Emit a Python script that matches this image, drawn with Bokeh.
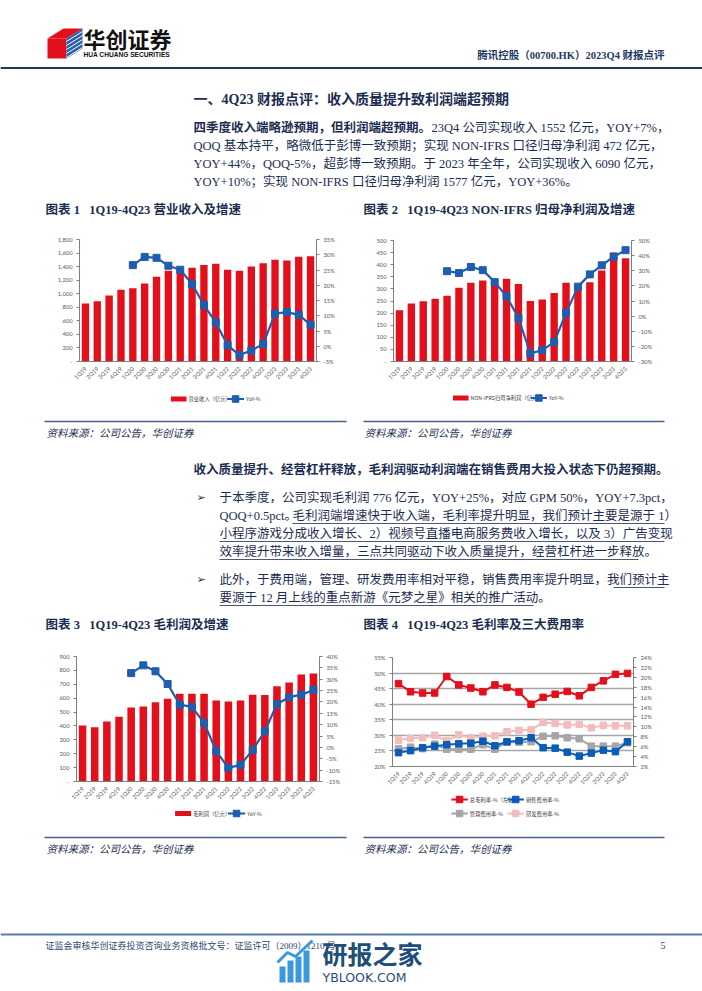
import math
from bokeh.plotting import figure
from bokeh.models import (Range1d, LinearAxis, FactorRange,
                          SingleIntervalTicker, NumeralTickFormatter, PrintfTickFormatter)
from bokeh.layouts import column, row
from bokeh.embed import file_html
from bokeh.resources import INLINE
from bokeh.core.properties import value

# ---------------- data ----------------
quarters = ["1Q19", "2Q19", "3Q19", "4Q19", "1Q20", "2Q20", "3Q20", "4Q20",
            "1Q21", "2Q21", "3Q21", "4Q21", "1Q22", "2Q22", "3Q22", "4Q22",
            "1Q23", "2Q23", "3Q23", "4Q23"]
yoy_quarters = quarters[4:]

revenue = [855, 889, 972, 1057, 1081, 1149, 1252, 1339, 1351, 1383,
           1425, 1442, 1355, 1340, 1401, 1450, 1500, 1492, 1546, 1552]
revenue_yoy = [26.6, 29.3, 29.0, 26.4, 25.1, 20.4, 13.5, 7.8,
               0.3, -2.9, -1.4, 0.7, 10.7, 11.2, 10.3, 7.1]

net_profit = [212, 240, 249, 259, 272, 305, 325, 335, 330, 342,
              320, 250, 256, 283, 325, 297, 327, 376, 450, 427]
net_profit_yoy = [29.7, 28.5, 32.5, 30.4, 22.5, 13.1, -1.2, -24.7,
                  -22.5, -17.2, 2.0, 19.5, 27.6, 33.6, 39.3, 43.6]

gross_profit = [403, 391, 432, 466, 533, 540, 571, 595, 631, 631,
                631, 583, 576, 583, 624, 622, 686, 713, 770, 778]
gross_profit_yoy = [32.7, 36.1, 33.5, 27.9, 18.8, 17.8, 10.8, -1.7,
                    -9.0, -7.7, -1.1, 7.1, 19.1, 22.1, 23.2, 25.3]

gross_margin = [46.6, 44.0, 43.6, 43.6, 48.9, 46.2, 45.2, 44.0, 46.2, 45.4,
                43.9, 40.0, 42.2, 43.2, 44.1, 42.7, 45.4, 47.5, 49.6, 49.9]
selling_ratio = [4.8, 5.2, 5.8, 6.1, 6.4, 6.6, 6.7, 7.1, 6.2, 7.0,
                 7.2, 7.8, 5.8, 5.7, 4.9, 4.1, 4.7, 5.3, 5.0, 7.0]
admin_ratio = [5.6, 5.9, 5.6, 6.5, 5.5, 5.5, 5.5, 6.4, 5.5, 6.9,
               6.9, 7.0, 8.1, 8.2, 7.8, 7.6, 6.1, 6.1, 6.1, 6.8]
rd_ratio = [7.3, 7.7, 7.8, 8.3, 7.2, 8.4, 7.8, 8.1, 8.2, 9.0,
            9.3, 9.4, 10.9, 10.7, 10.4, 10.5, 9.8, 10.3, 10.2, 10.2]

# ---------------- styles ----------------
NAVY = "#1C2D52"
RULE = "#44638F"
RED = "#E3101B"
BLUE = "#1F5DAE"
BLUE4 = "#0B5CB5"
GRAY = "#A6A6A6"
PINK = "#F2BDBD"
TICK = "#595959"
LEGC = "#404040"
SERIF = "'Liberation Serif', 'Noto Sans CJK SC', serif"
CJK = "'Noto Sans CJK SC', sans-serif"
TICKF = "Lato, 'Noto Sans CJK SC', sans-serif"
SP = "\u00a0\u00a0\u00a0"

W = 702


def panel(x0, x1, y0, y1):
    p = figure(width=int(x1 - x0), height=int(y1 - y0), x_range=Range1d(x0, x1), y_range=Range1d(y1, y0),
               output_backend="svg", toolbar_location=None, min_border=0,
               x_axis_location=None, y_axis_location=None)
    p.grid.visible = False
    p.outline_line_color = None
    return p


def strip(y0, y1):
    return panel(0, W, y0, y1)


def txt(p, x, y, s, size, bold=False, italic=False, color=NAVY, font=SERIF, align="left"):
    style = "bold" if bold else ("italic" if italic else "normal")
    p.text(x=[x], y=[y], text=[s], text_font=value(font), text_font_size=f"{size}px",
           text_font_style=style, text_color=color, text_align=align, text_baseline="middle")


def uline(p, x0, x1, y):
    p.segment(x0=[x0], y0=[y], x1=[x1], y1=[y], line_color=NAVY, line_width=0.8)


def chart(w, h, bl, br, bt, bb, yr, y2r, lint, rint, pct_left=False):
    p = figure(width=w, height=h, x_range=FactorRange(factors=quarters), y_range=Range1d(*yr),
               output_backend="svg", toolbar_location=None,
               min_border_left=bl, min_border_right=br, min_border_top=bt, min_border_bottom=bb)
    p.outline_line_color = None
    p.xgrid.grid_line_color = None
    p.ygrid.grid_line_color = None
    p.extra_y_ranges = {"r": Range1d(*y2r)}
    lt = SingleIntervalTicker(interval=lint)
    p.yaxis.ticker = lt
    p.ygrid.ticker = lt
    if pct_left:
        p.yaxis.formatter = PrintfTickFormatter(format="%d%%")
    else:
        p.yaxis.formatter = NumeralTickFormatter(format="0,0")
        p.yaxis.major_label_overrides = {0: "-"}
    ax2 = LinearAxis(y_range_name="r", ticker=SingleIntervalTicker(interval=rint),
                     formatter=PrintfTickFormatter(format="%d%%"))
    p.add_layout(ax2, "right")
    for ax in p.axis:
        ax.axis_line_color = "#7F7F7F"
        ax.axis_line_width = 1
        ax.major_tick_line_color = "#7F7F7F"
        ax.major_tick_out = 3
        ax.major_tick_in = 0
        ax.minor_tick_line_color = None
        ax.major_label_text_font = TICKF
        ax.major_label_text_font_size = "5.8px"
        ax.major_label_text_color = TICK
        ax.major_label_standoff = 3
    p.xaxis.major_label_orientation = math.pi / 4
    p.xaxis.major_tick_line_color = None
    p.xaxis.major_label_standoff = 3
    return p


def legend_panel(x0, x1, y0, y1, entries):
    """entries: (kind, colour, swatch_x0, swatch_x1, y, label)"""
    lp = panel(x0, x1, y0, y1)
    for kind, col, sx0, sx1, sy, label in entries:
        if kind == "bar":
            lp.quad(left=[sx0], right=[sx1], bottom=[sy + 2.6], top=[sy - 2.6],
                    fill_color=col, line_color=None)
        else:
            lp.segment(x0=[sx0], y0=[sy], x1=[sx1], y1=[sy], line_color=col, line_width=2.2)
            lp.scatter(x=[(sx0 + sx1) / 2], y=[sy], marker="square", size=6.5,
                       fill_color=col, line_color=col)
        txt(lp, sx1 + 3, sy, label, 5.3, color=LEGC, font=CJK)
    return lp


def bar_line_chart(w, h, bl, br, bt, bb, bars, yoy, yr, y2r, lint, rint):
    p = chart(w, h, bl, br, bt, bb, yr, y2r, lint, rint)
    p.vbar(x=quarters, top=bars, width=0.62, fill_color=RED, line_color=None)
    p.line(x=yoy_quarters, y=yoy, y_range_name="r", line_color=BLUE, line_width=2.2)
    p.scatter(x=yoy_quarters, y=yoy, y_range_name="r", marker="square", size=7,
              fill_color=BLUE, line_color=BLUE)
    return p


# ---------------- strip A: header + text ----------------
A = strip(0, 225)
# logo
A.patch(x=[47, 63, 82, 66], y=[38, 28, 28, 38], fill_color=RED, line_color=None)
A.patch(x=[47, 66, 66, 47], y=[38, 38, 58, 58], fill_color=RED, line_color=None)
A.patch(x=[66, 82, 82, 66], y=[38, 28, 48, 58], fill_color="#2C5EAA", line_color=None)
for k in range(5):
    A.segment(x0=[66], y0=[41 + 4 * k], x1=[82], y1=[31 + 4 * k], line_color="white", line_width=1)
txt(A, 83, 37, "华创证券", 22, bold=True, color="#111111", font=CJK)
txt(A, 83, 54, "HUA CHUANG SECURITIES", 6.6, bold=True, color="#111111", font="'Liberation Sans', sans-serif")
txt(A, 664, 55, "腾讯控股（00700.HK）2023Q4 财报点评", 10.5, bold=True, color="#1F3864", align="right")
A.segment(x0=[0], y0=[67.5], x1=[702], y1=[67.5], line_color="#1F3864", line_width=2)

txt(A, 193, 99, "一、4Q23 财报点评：收入质量提升致利润端超预期", 14, bold=True)
txt(A, 193, 127, "四季度收入端略逊预期，但利润端超预期。", 12.5, bold=True)
txt(A, 431, 127, "23Q4 公司实现收入 1552 亿元，YOY+7%，", 12.5)
txt(A, 193, 145, "QOQ 基本持平，略微低于彭博一致预期；实现 NON-IFRS 口径归母净利润 472 亿元，", 12.5)
txt(A, 193, 163, "YOY+44%，QOQ-5%，超彭博一致预期。于 2023 年全年，公司实现收入 6090 亿元，", 12.5)
txt(A, 193, 181, "YOY+10%；实现 NON-IFRS 口径归母净利润 1577 亿元，YOY+36%。", 12.5)

txt(A, 45, 209, "图表 1" + SP + "1Q19-4Q23 营业收入及增速", 12.5, bold=True)
txt(A, 363, 209, "图表 2" + SP + "1Q19-4Q23 NON-IFRS 归母净利润及增速", 12.5, bold=True)

# ---------------- charts 1 & 2 (y 225..415) ----------------
c1 = bar_line_chart(350, 160, 79, 34, 14, 19, revenue, revenue_yoy, (0, 1800), (-5, 35), 200, 5)
l1 = legend_panel(0, 350, 385, 415, [("bar", RED, 135, 158, 398.5, "营业收入（亿元）"),
                                     ("line", BLUE, 218, 243, 398.5, "YoY-%")])
c2 = bar_line_chart(352, 160, 43, 71, 15, 20, net_profit, net_profit_yoy, (0, 500), (-30, 50), 50, 10)
l2 = legend_panel(350, 702, 385, 415, [("bar", RED, 438, 461, 397.5, "NON-IFRS归母净利润（亿元）"),
                                       ("line", BLUE, 553, 577, 397.5, "YoY-%")])

# ---------------- strip C ----------------
C = strip(415, 640)
for x0, x1 in [(44, 346), (363, 664)]:
    C.segment(x0=[x0], y0=[421], x1=[x1], y1=[421], line_color=RULE, line_width=1.6)
txt(C, 46, 432, "资料来源：公司公告，华创证券", 10.5, italic=True, font=CJK)
txt(C, 364, 432, "资料来源：公司公告，华创证券", 10.5, italic=True, font=CJK)

txt(C, 193, 469, "收入质量提升、经营杠杆释放，毛利润驱动利润端在销售费用大投入状态下仍超预期。", 12.5, bold=True)
txt(C, 196, 497, "➢", 11, font="'DejaVu Sans'")
txt(C, 219, 497, "于本季度，公司实现毛利润 776 亿元，YOY+25%，对应 GPM 50%，YOY+7.3pct，", 12.5)
txt(C, 219, 515, "QOQ+0.5pct。", 12.5)
txt(C, 292, 515, "毛利润端增速快于收入端，毛利率提升明显，我们预计主要是源于 1）", 12.5)
uline(C, 292, 664, 523)
txt(C, 219, 533, "小程序游戏分成收入增长、2）视频号直播电商服务费收入增长，以及 3）广告变现", 12.5)
uline(C, 219, 664, 541)
txt(C, 219, 551, "效率提升带来收入增量，三点共同驱动下收入质量提升，经营杠杆进一步释放。", 12.5)
uline(C, 219, 638, 559)
txt(C, 196, 579, "➢", 11, font="'DejaVu Sans'")
txt(C, 219, 579, "此外，于费用端，管理、研发费用率相对平稳，销售费用率提升明显，我们预计主", 12.5)
uline(C, 613, 664, 587)
txt(C, 219, 597, "要源于 12 月上线的重点新游《元梦之星》相关的推广活动。", 12.5)
uline(C, 219, 533, 605)

txt(C, 45, 624, "图表 3" + SP + "1Q19-4Q23 毛利润及增速", 12.5, bold=True)
txt(C, 363, 624, "图表 4" + SP + "1Q19-4Q23 毛利率及三大费用率", 12.5, bold=True)

# ---------------- charts 3 & 4 (y 640..830) ----------------
c3 = bar_line_chart(350, 165, 76, 31, 16, 24, gross_profit, gross_profit_yoy, (0, 900), (-15, 40), 100, 5)
l3 = legend_panel(0, 350, 805, 830, [("bar", RED, 142, 165, 813, "毛利润（亿元）"),
                                     ("line", BLUE, 218, 243, 813, "YoY-%")])

c4 = chart(352, 150, 42, 69, 17, 23, (20, 55), (2, 24), 5, 2, pct_left=True)
c4.ygrid.grid_line_color = "#A6A6A6"
c4.ygrid.grid_line_width = 1.3
series = [("总毛利率-%（左轴）", gross_margin, RED, "default"),
          ("销售费用率-%", selling_ratio, BLUE4, "r"),
          ("管理费用率-%", admin_ratio, GRAY, "r"),
          ("研发费用率-%", rd_ratio, PINK, "r")]
for label, vals, col, rng in [series[3], series[2], series[1], series[0]]:
    c4.line(x=quarters, y=vals, y_range_name=rng, line_color=col, line_width=2)
    c4.scatter(x=quarters, y=vals, y_range_name=rng, marker="square", size=6.5,
               fill_color=col, line_color=col)
l4 = legend_panel(350, 702, 790, 830, [("line", RED, 436, 460, 799, series[0][0]),
                                       ("line", BLUE4, 518, 542, 799, series[1][0]),
                                       ("line", GRAY, 436, 460, 813, series[2][0]),
                                       ("line", PINK, 518, 542, 813, series[3][0])])

# ---------------- strip E ----------------
E = strip(830, 991)
for x0, x1 in [(44, 346), (363, 664)]:
    E.segment(x0=[x0], y0=[837], x1=[x1], y1=[837], line_color=RULE, line_width=1.6)
txt(E, 46, 848, "资料来源：公司公告，华创证券", 10.5, italic=True, font=CJK)
txt(E, 364, 848, "资料来源：公司公告，华创证券", 10.5, italic=True, font=CJK)
E.segment(x0=[0], y0=[934], x1=[702], y1=[934], line_color="#5A7CA8", line_width=2)
txt(E, 45, 945, "证监会审核华创证券投资咨询业务资格批文号：证监许可（2009）1210 号", 9, color="#2E4670")
txt(E, 660, 945, "5", 10, color="#2E4670")
# watermark
E.quad(left=[279, 287, 295, 303], right=[285, 293, 301, 309],
       bottom=[982, 982, 982, 982], top=[966, 960, 956, 950], fill_color="#3A9AD9", line_color=None)
E.line(x=[277, 287, 295, 312], y=[962, 952, 956, 940], line_color="#3A9AD9", line_width=3)
txt(E, 322, 952, "研报之家", 25, bold=True, color="#1F4E7A", font=CJK)
txt(E, 322, 977, "YBLOOK.COM", 12.5, color="#1F4E7A", font="'DejaVu Sans'")

page = column(A,
              row(column(c1, l1), column(c2, l2)),
              C,
              row(column(c3, l3), column(c4, l4)),
              E)
open("out.html", "w").write(file_html(page, INLINE))
